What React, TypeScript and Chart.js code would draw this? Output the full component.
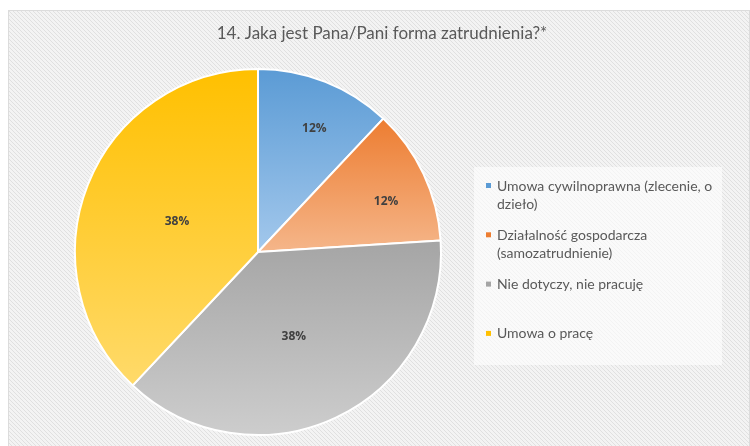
import React, { useEffect, useRef } from "react";
import { Chart, registerables } from "chart.js";

Chart.register(...registerables);

const TITLE = "14. Jaka jest Pana/Pani forma zatrudnienia?*";
const CATEGORIES = [
  "Umowa cywilnoprawna (zlecenie, o dzieło)",
  "Działalność gospodarcza (samozatrudnienie)",
  "Nie dotyczy, nie pracuję",
  "Umowa o pracę",
];
const VALUES = [12, 12, 38, 38];
const TOP_COLORS = ["#5b9bd5", "#ed7d31", "#a5a5a5", "#ffc000"];
const BOTTOM_COLORS = ["#a3c8ec", "#f5b68a", "#cdcdcd", "#ffda6a"];

function makePattern(ctx: CanvasRenderingContext2D) {
  const c = document.createElement("canvas");
  c.width = 4;
  c.height = 4;
  const p = c.getContext("2d")!;
  p.fillStyle = "#f3f3f3";
  p.fillRect(0, 0, 4, 4);
  p.fillStyle = "#e0e0e0";
  for (let x = 0; x < 4; x++) {
    for (let y = 0; y < 4; y++) {
      if ((x - y + 8) % 4 === 0) p.fillRect(x, y, 1, 1);
    }
  }
  return ctx.createPattern(c, "repeat")!;
}

const backgroundPlugin = {
  id: "bgPattern",
  beforeDraw(chart: any) {
    const { ctx, width, height } = chart;
    ctx.save();
    ctx.fillStyle = makePattern(ctx);
    ctx.fillRect(0, 0, width, height);
    ctx.strokeStyle = "#dcdcdc";
    ctx.lineWidth = 1;
    ctx.strokeRect(0.5, 0.5, width - 1, height + 5);
    ctx.fillStyle = "#595959";
    ctx.font = "17px Lato";
    ctx.textAlign = "center";
    ctx.textBaseline = "middle";
    ctx.fillText(chart.options.plugins.customTitle.text, width / 2 + 3, 24);
    ctx.restore();
  },
};

const gradientPlugin = {
  id: "sliceGradient",
  beforeDatasetsDraw(chart: any) {
    const meta = chart.getDatasetMeta(0);
    const ctx = chart.ctx;
    meta.data.forEach((el: any, i: number) => {
      const { x, y, startAngle, endAngle, outerRadius } = el.getProps(
        ["x", "y", "startAngle", "endAngle", "outerRadius"],
        true
      );
      let minY = y;
      let maxY = y;
      const steps = 60;
      for (let s = 0; s <= steps; s++) {
        const a = startAngle + ((endAngle - startAngle) * s) / steps;
        const py = y + Math.sin(a) * outerRadius;
        minY = Math.min(minY, py);
        maxY = Math.max(maxY, py);
      }
      const g = ctx.createLinearGradient(0, minY, 0, maxY);
      g.addColorStop(0, TOP_COLORS[i]);
      g.addColorStop(1, BOTTOM_COLORS[i]);
      el.options = { ...el.options, backgroundColor: g };
    });
  },
};

const labelsPlugin = {
  id: "sliceLabels",
  afterDatasetsDraw(chart: any) {
    const meta = chart.getDatasetMeta(0);
    const ctx = chart.ctx;
    const data: number[] = chart.data.datasets[0].data;
    const total = data.reduce((a, b) => a + b, 0);
    ctx.save();
    ctx.font = "bold 12px 'Open Sans'";
    ctx.fillStyle = "#404040";
    ctx.textAlign = "center";
    ctx.textBaseline = "middle";
    meta.data.forEach((el: any, i: number) => {
      const { x, y, startAngle, endAngle, outerRadius } = el.getProps(
        ["x", "y", "startAngle", "endAngle", "outerRadius"],
        true
      );
      const share = data[i] / total;
      const mid = (startAngle + endAngle) / 2 + (share < 0.2 ? 0.04 : 0.02);
      const r = outerRadius * (share < 0.2 ? 0.76 : 0.48);
      const txt = Math.round(share * 100) + "%";
      ctx.fillText(txt, x + Math.cos(mid) * r, y + Math.sin(mid) * r + 4);
    });
    ctx.restore();
  },
};

function wrap(ctx: CanvasRenderingContext2D, text: string, maxW: number) {
  const words = text.split(" ");
  const lines: string[] = [];
  let cur = "";
  for (const w of words) {
    const t = cur ? cur + " " + w : w;
    if (ctx.measureText(t).width > maxW && cur) {
      lines.push(cur);
      cur = w;
    } else cur = t;
  }
  if (cur) lines.push(cur);
  return lines;
}

const legendPlugin = {
  id: "customLegend",
  afterDraw(chart: any) {
    const ctx = chart.ctx;
    const boxX = 466;
    const boxY = 157;
    const boxW = 248;
    const boxH = 198;
    ctx.save();
    ctx.fillStyle = "rgba(255,255,255,0.6)";
    ctx.fillRect(boxX, boxY, boxW, boxH);
    ctx.font = "14px Lato";
    ctx.textBaseline = "middle";
    const labels: string[] = chart.data.labels;
    const firstY = boxY + 19;
    const step = 49.3;
    const lineH = 18;
    labels.forEach((lab, i) => {
      const y0 = firstY + i * step;
      ctx.fillStyle = TOP_COLORS[i];
      ctx.fillRect(boxX + 12, y0 - 3, 5, 5);
      ctx.fillStyle = "#595959";
      const lines = wrap(ctx, lab, 224);
      lines.forEach((ln, k) => ctx.fillText(ln, boxX + 23, y0 + k * lineH));
    });
    ctx.restore();
  },
};

export default function App() {
  const ref = useRef<HTMLCanvasElement>(null);
  useEffect(() => {
    if (!ref.current) return;
    const chart = new Chart(ref.current, {
      type: "pie",
      data: {
        labels: CATEGORIES,
        datasets: [
          {
            data: VALUES,
            backgroundColor: TOP_COLORS,
            borderColor: "#ffffff",
            borderWidth: 2,
          },
        ],
      },
      options: {
        responsive: false,
        animation: false,
        devicePixelRatio: 1,
        layout: { padding: { left: 66, right: 308, top: 58, bottom: 10 } },
        plugins: {
          legend: { display: false },
          tooltip: { enabled: false },
          title: { display: false },
          customTitle: { text: TITLE },
        } as any,
      },
      plugins: [backgroundPlugin, gradientPlugin, labelsPlugin, legendPlugin],
    });
    return () => chart.destroy();
  }, []);
  return (
    <div style={{ position: "fixed", left: 8, top: 10, width: 742, height: 436 }}>
      <canvas ref={ref} width={742} height={436} style={{ display: "block" }} />
    </div>
  );
}
